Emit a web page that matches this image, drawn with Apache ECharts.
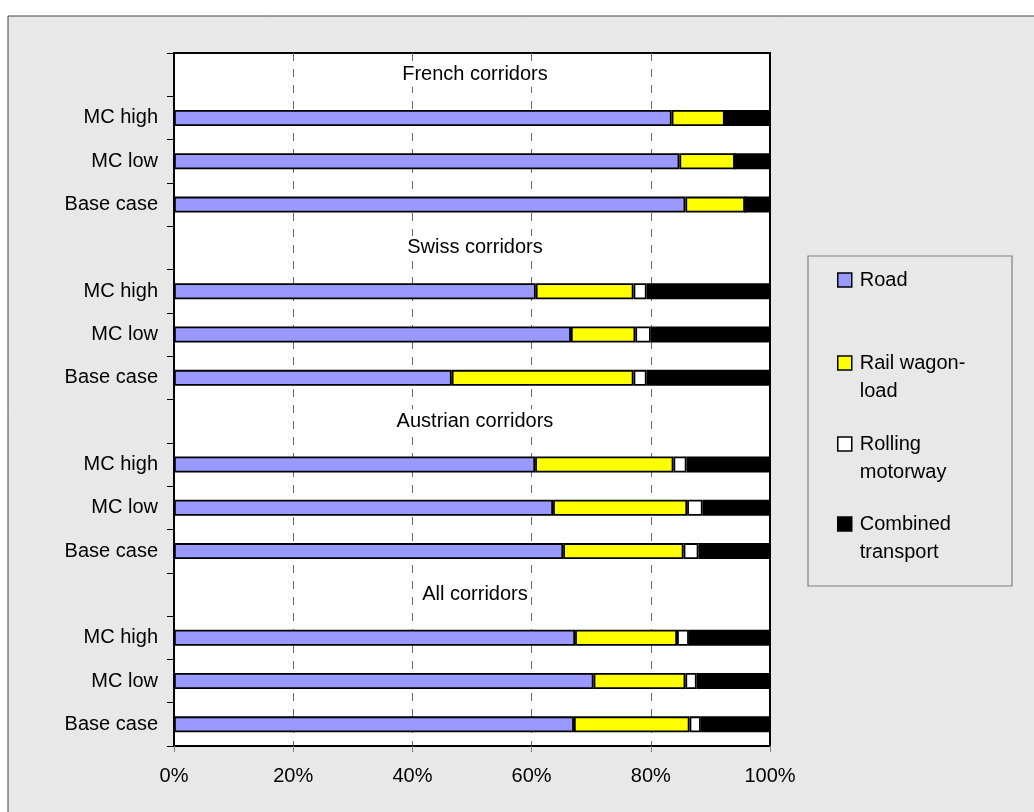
<!DOCTYPE html>
<html>
<head>
<meta charset="utf-8">
<script src="https://cdn.jsdelivr.net/npm/echarts@6/dist/echarts.min.js"></script>
<style>
  html, body { margin: 0; padding: 0; background: #fff; }
  #chart { width: 1034px; height: 812px; }
</style>
</head>
<body>
<div id="chart"></div>
<script>
// Rows from top to bottom; empty rows carry the corridor group headings.
const rowLabels = ['', 'MC high', 'MC low', 'Base case',
                   '', 'MC high', 'MC low', 'Base case',
                   '', 'MC high', 'MC low', 'Base case',
                   '', 'MC high', 'MC low', 'Base case'];
const groupTitles = ['French corridors', 'Swiss corridors', 'Austrian corridors', 'All corridors'];
const groupRows = [0, 4, 8, 12];

// Modal shares (%) per row
const road              = [null, 83.5, 84.8, 85.8, null, 60.7, 66.6, 46.6, null, 60.6, 63.6, 65.3, null, 67.3, 70.4, 67.1];
const railWagonload     = [null,  8.9,  9.3, 10.0, null, 16.4, 10.8, 30.5, null, 23.2, 22.5, 20.2, null, 17.1, 15.4, 19.4];
const rollingMotorway   = [null,  0.0,  0.0,  0.0, null,  2.2,  2.6,  2.2, null,  2.2,  2.6,  2.5, null,  2.0,  1.9,  1.9];
const combinedTransport = [null,  7.6,  5.9,  4.2, null, 20.7, 20.0, 20.7, null, 14.0, 11.3, 12.0, null, 13.6, 12.3, 11.6];

const seriesNames = ['Road', 'Rail wagon-load', 'Rolling motorway', 'Combined transport'];
// A leading blank line keeps the marker level with the first text line of two-line entries
const legendText = ['Road', ' \nRail wagon-\nload', ' \nRolling\nmotorway', ' \nCombined\ntransport'];
const seriesColors = ['#9999ff', '#ffff00', '#ffffff', '#000000'];
const seriesValues = [road, railWagonload, rollingMotorway, combinedTransport];

const xMin = 0, xMax = 100, xStep = 20;

const FONT = '"Liberation Sans", Arial, sans-serif';
const chart = echarts.init(document.getElementById('chart'), null, { renderer: 'canvas' });

const barSeries = seriesNames.map((name, i) => ({
  name,
  type: 'bar',
  stack: 'share',
  barWidth: 16,
  data: seriesValues[i],
  itemStyle: { color: seriesColors[i], borderColor: '#000', borderWidth: 1.8 },
  emphasis: { disabled: true },
  animation: false
}));

// Group headings placed in the empty rows at mid-scale
const headingSeries = {
  type: 'scatter',
  symbolSize: 1,
  itemStyle: { color: 'rgba(255,255,255,0)', opacity: 1 },
  data: groupRows.map((r, k) => ({ value: [50.5, r], name: groupTitles[k] })),
  label: {
    show: true,
    position: 'inside',
    formatter: p => p.name,
    color: '#000',
    opacity: 1,
    textBorderWidth: 0,
    backgroundColor: '#fff',
    padding: [2, 3],
    fontFamily: FONT,
    fontSize: 20
  },
  z: 10,
  silent: true,
  animation: false
};

// Legend: one component per entry
const legendTops = [266, 321, 402, 482];
const legends = seriesNames.map((name, i) => ({
  data: [{ name }],
  orient: 'vertical',
  left: 837,
  top: legendTops[i],
  padding: 0,
  itemWidth: 14,
  itemHeight: 14,
  icon: 'rect',
  selectedMode: false,
  itemStyle: { color: seriesColors[i], borderColor: '#000', borderWidth: 1.5 },
  formatter: () => legendText[i],
  textStyle: {
    color: '#000',
    fontFamily: FONT,
    fontSize: 20,
    lineHeight: 28,
    padding: [0, 0, 0, 3]
  }
}));

chart.setOption({
  backgroundColor: '#fff',
  animation: false,
  graphic: [
    {
      type: 'rect', z: -10, silent: true,
      shape: { x: 8, y: 16, width: 1200, height: 1000 },
      style: { fill: '#e8e8e8', stroke: '#404040', lineWidth: 1 }
    },
    {
      type: 'rect', z: 5, silent: true,
      shape: { x: 808, y: 256, width: 204, height: 330 },
      style: { fill: 'none', stroke: '#808080', lineWidth: 1.2 }
    }
  ],
  legend: legends,
  grid: {
    left: 174, right: 264, top: 53, bottom: 66,
    show: true, backgroundColor: '#fff', borderColor: '#000', borderWidth: 2,
    containLabel: false
  },
  xAxis: {
    type: 'value',
    min: xMin, max: xMax, interval: xStep,
    axisLine: { show: true, lineStyle: { color: '#000', width: 2 } },
    axisTick: { show: true, length: 6, lineStyle: { color: '#808080', width: 1 } },
    axisLabel: { formatter: '{value}%', color: '#000', fontFamily: FONT, fontSize: 20, margin: 20 },
    splitLine: { show: true, showMinLine: false, showMaxLine: false,
                 lineStyle: { color: '#6a6a6a', width: 1, type: [8, 8] } }
  },
  yAxis: {
    type: 'category',
    inverse: true,
    data: rowLabels.map((_, i) => String(i)),
    axisLine: { show: true, lineStyle: { color: '#000', width: 2 } },
    axisTick: { show: true, interval: 0, length: 7, lineStyle: { color: '#000', width: 1 } },
    axisLabel: {
      interval: 0,
      formatter: (v, idx) => rowLabels[idx],
      color: '#000', fontFamily: FONT, fontSize: 20, margin: 16
    },
    splitLine: { show: false }
  },
  series: [...barSeries, headingSeries]
});
</script>
</body>
</html>
